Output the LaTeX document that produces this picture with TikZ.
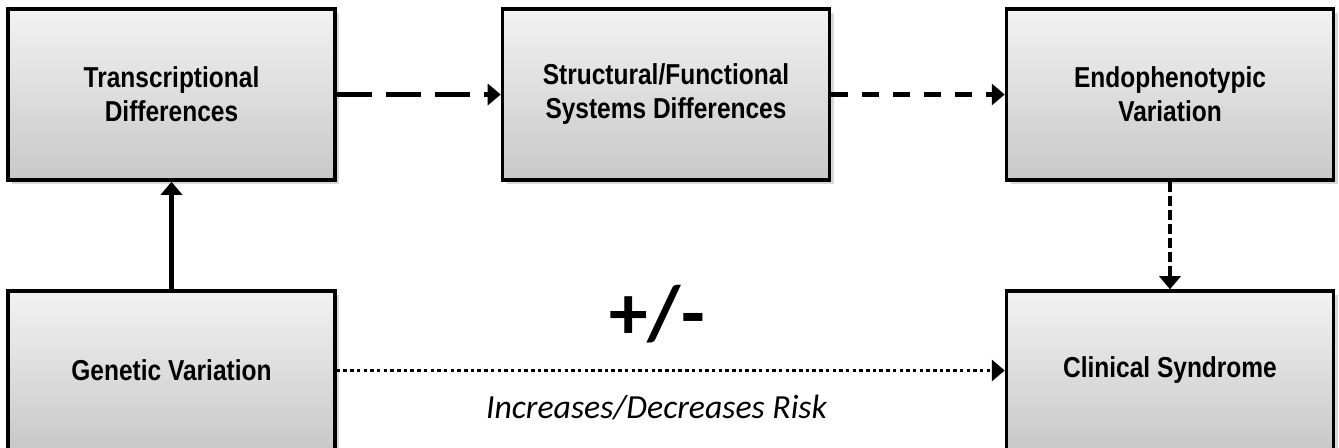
\documentclass[tikz,border=0pt]{standalone}
\usepackage{fontspec}
\setmainfont{Carlito}
\newfontfamily\boxfont[FakeStretch=0.85]{Liberation Sans}
\usepackage{tikz}
\usetikzlibrary{shadows,arrows.meta}

\tikzset{
  stage/.style={rectangle,
      draw=black,
      line width=1pt,
      top color=gray!10,
      bottom color=gray!43,
      drop shadow={shadow xshift=1.2pt, shadow yshift=-1.2pt, opacity=0.3},
      minimum width=3.27cm,
      align=center,
      font=\boxfont\bfseries\fontsize{8.2}{9.7}\selectfont},
  link/.style={line width=1.15pt, -{Triangle[width=0.21cm,length=0.13cm]}}
}

\begin{document}
\begin{tikzpicture}
\clip (0,0) rectangle (13.39,4.47);
\fill[white] (0,0) rectangle (13.39,4.47);

% top row
\node[stage, minimum height=1.71cm] (trans) at (1.715,3.525) {Transcriptional\\Differences};
\node[stage, minimum height=1.71cm] (struct) at (6.66,3.525) {Structural/Functional\\Systems Differences};
\node[stage, minimum height=1.71cm] (endo) at (11.70,3.525) {Endophenotypic\\Variation};

% bottom row
\node[stage, minimum height=1.59cm] (genvar) at (1.715,0.765) {Genetic Variation};
\node[stage, minimum height=1.59cm] (clin) at (11.70,0.765) {Clinical Syndrome};

\draw[link] (genvar) -- (trans);
\draw[link, dash pattern=on 0.35cm off 0.14cm] (trans) -- (struct);
\draw[link, dash pattern=on 0.17cm off 0.14cm] (struct) -- (endo);
\draw[link, dash pattern=on 0.10cm off 0.04cm] (endo) -- (clin);
\draw[link, line width=1.05pt, dash pattern=on 0.035cm off 0.032cm] (genvar) -- (clin);

\node (sign) at (6.57,1.33) {\bfseries\fontsize{22}{26}\selectfont +/-};
\node[anchor=base] (risk) at (6.565,0.29) {\itshape\fontsize{9.6}{11}\selectfont Increases/Decreases Risk};
\end{tikzpicture}
\end{document}
